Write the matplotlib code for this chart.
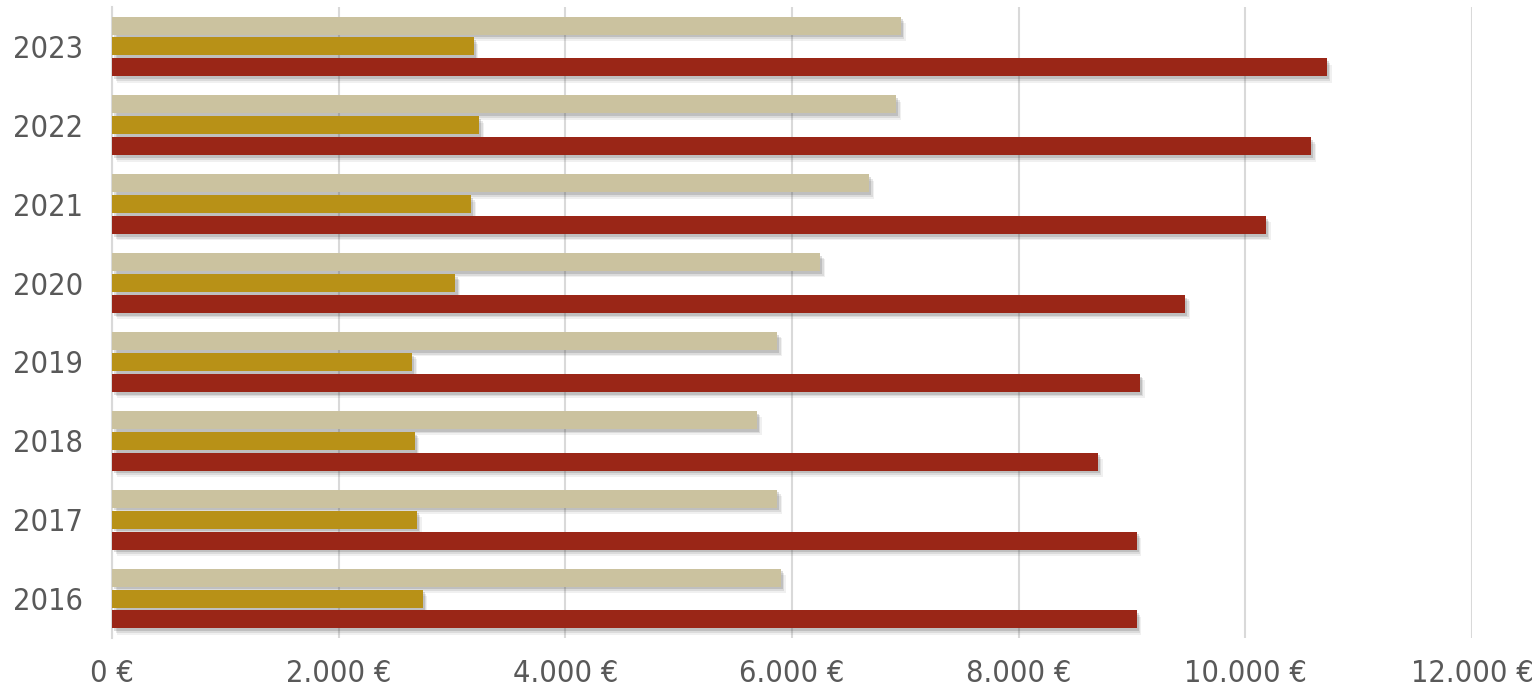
import matplotlib.pyplot as plt
import matplotlib.patheffects as pe
from matplotlib.ticker import FuncFormatter
import numpy as np

# %% Data
years = ["2016", "2017", "2018", "2019", "2020", "2021", "2022", "2023"]
beige_vals = [5900, 5870, 5690, 5870, 6250, 6680, 6920, 6960]
gold_vals = [2740, 2690, 2670, 2650, 3030, 3170, 3240, 3190]
red_vals = [9040, 9040, 8700, 9070, 9470, 10180, 10580, 10720]

xticks = [0, 2000, 4000, 6000, 8000, 10000, 12000]

# %% Plot
fig = plt.figure(figsize=(15.37, 6.94), dpi=100)
ax = fig.add_axes([0.0729, 0.0807, 0.8848, 0.9092])

y = np.arange(len(years))
h = 0.228
step = 0.265
# soft drop shadow, a few stacked layers
shadow = [pe.SimplePatchShadow(offset=(o, -o * 1.3), shadow_rgbFace="#444444", alpha=a)
          for o, a in [(3.5, 0.08), (2.5, 0.12), (1.5, 0.18)]] + [pe.Normal()]

ax.barh(y + step, beige_vals, height=h, color="#CBC29F", path_effects=shadow, zorder=3)
ax.barh(y, gold_vals, height=h, color="#B89117", path_effects=shadow, zorder=3)
ax.barh(y - step, red_vals, height=h, color="#9A2617", path_effects=shadow, zorder=3)

ax.set_xlim(0, 12000)
ax.set_ylim(-0.5, len(years) - 0.5)
ax.set_xticks(xticks)
ax.xaxis.set_major_formatter(FuncFormatter(lambda v, p: f"{v:,.0f}".replace(",", ".") + " €"))
ax.set_yticks(y)
ax.set_yticklabels(years)

ax.grid(axis="x", color="#D9D9D9", linewidth=1.5, zorder=0)
ax.set_axisbelow(True)
for s in ["top", "right", "bottom"]:
    ax.spines[s].set_visible(False)
ax.spines["left"].set_color("#D9D9D9")
ax.spines["left"].set_linewidth(1.5)

ax.tick_params(length=0, labelsize=22, labelcolor="#595959")
ax.tick_params(axis="y", pad=21)
ax.tick_params(axis="x", pad=15)
for lbl in ax.get_xticklabels() + ax.get_yticklabels():
    lbl.set_fontstretch("condensed")

fig.savefig("out.png", dpi=100)
